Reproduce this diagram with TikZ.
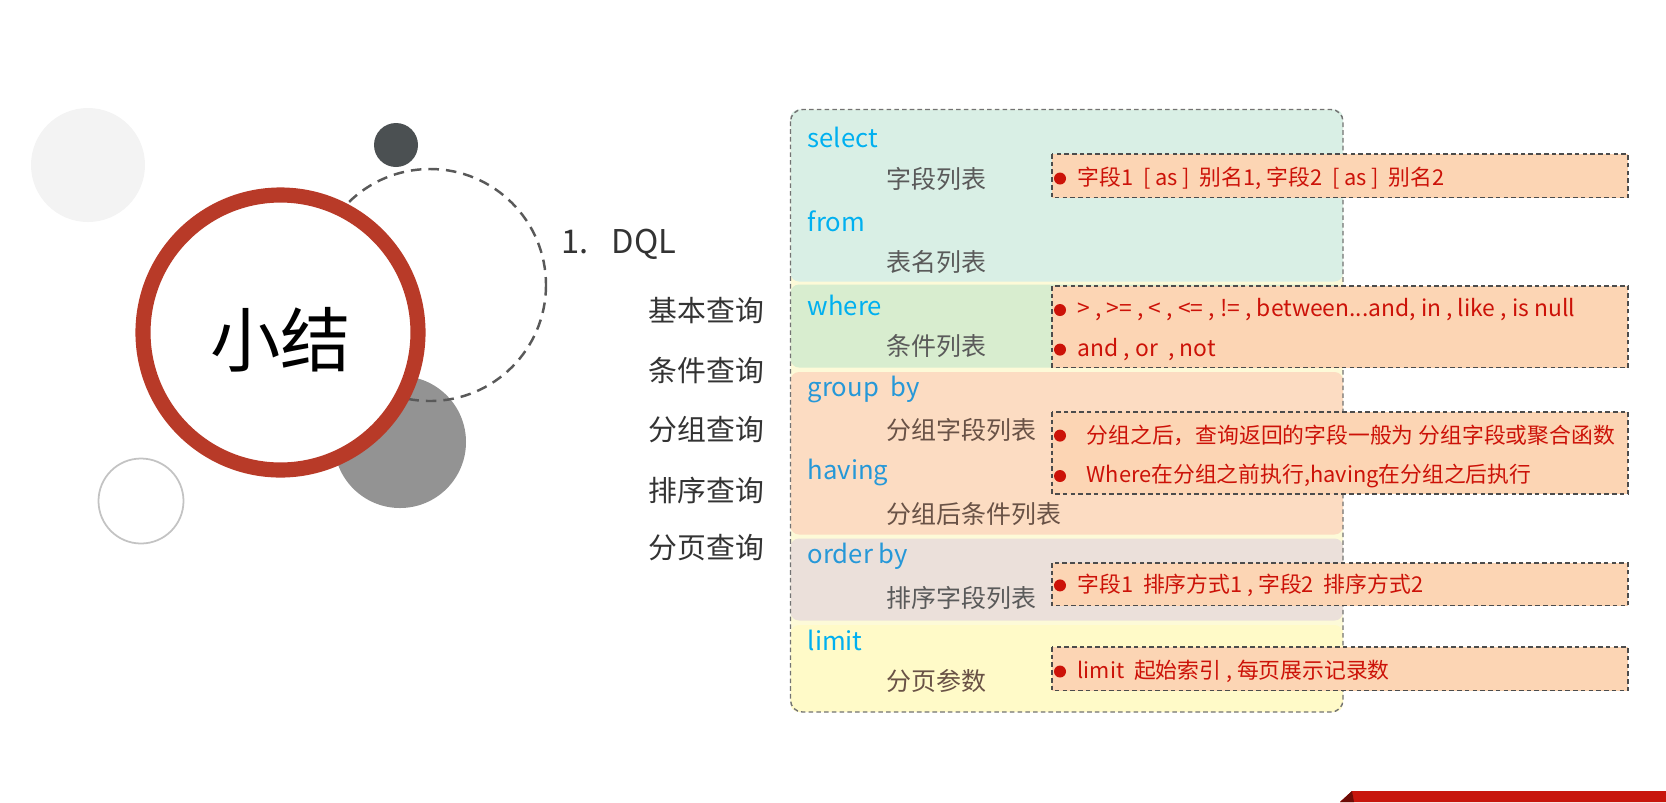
\documentclass[tikz,border=0pt]{standalone}
\usepackage{fontspec}
\setmainfont{Noto Sans CJK SC}
\usepackage{xcolor}
\usepackage{tikz}
\definecolor{ringred}{RGB}{184,58,40}
\definecolor{darkdot}{RGB}{75,80,82}
\definecolor{midgray}{RGB}{147,147,147}
\definecolor{palegray}{RGB}{243,243,243}
\definecolor{ringgray}{RGB}{195,195,195}
\definecolor{kwcyan}{RGB}{0,176,240}
\definecolor{kwblue}{RGB}{38,152,216}
\definecolor{subgray}{RGB}{90,90,90}
\definecolor{subbrown}{RGB}{105,82,70}
\definecolor{notered}{RGB}{204,18,8}
\definecolor{notefill}{RGB}{252,213,180}
\definecolor{boxfill}{RGB}{253,250,216}
\definecolor{selfill}{RGB}{217,239,229}
\definecolor{wherefill}{RGB}{216,237,207}
\definecolor{groupfill}{RGB}{252,220,194}
\definecolor{orderfill}{RGB}{235,224,218}
\definecolor{limitfill}{RGB}{255,250,200}
\definecolor{barred}{RGB}{200,22,13}

\begin{document}
\begin{tikzpicture}[
			x = 0.01cm, y = -0.01cm,
			every node/.style = {inner sep = 0pt, anchor = west},
			kw/.style = {text = kwcyan, font = \fontsize{7.3}{8}\selectfont},
			kwb/.style = {text = kwblue, font = \fontsize{7.3}{8}\selectfont},
			sub/.style = {text = subgray, font = \fontsize{7.1}{8}\selectfont},
			subb/.style = {text = subbrown, font = \fontsize{7.1}{8}\selectfont},
			topic/.style = {text = black!80, font = \fontsize{8.2}{9}\selectfont},
			note/.style = {text = notered, font = \fontsize{6.2}{7}\selectfont},
			notelat/.style = {text = notered, font = \fontsize{6.5}{7}\selectfont},
			notebox/.style = {draw = black!70, fill = notefill, line width = 0.4pt, dash pattern = on 1.3pt off 0.9pt},
			part/.style = {rounded corners = 2.4pt},
			dot/.style = {fill = notered}
		]
			\def\kwx{807}
			\def\subx{886}
			\def\boxl{1052}
			\def\boxr{1628}
			\def\dotx{1060}
			\def\notex{1077}

			\useasboundingbox (0,0) rectangle (1666,802);

			\fill[palegray] (88,165) circle (57);
			\fill[darkdot] (396,145) circle (22);
			\draw[ringgray, line width = 0.5pt] (141,501) circle (42.5);
			\fill[midgray] (400,442) circle (66);
			\draw[black!65, line width = 0.7pt, dash pattern = on 3pt off 2pt] (430,285) circle (116);
			\draw[ringred, fill = white, line width = 4.3pt] (280.5,332.5) circle (137.5);
			\draw (280.5,340) node[anchor = center, font = \fontsize{20}{22}\selectfont] (title) {小结};

			\draw (561,244) node[topic, font = \fontsize{9.3}{10}\selectfont] (dql) {1.\hspace{0.7em}DQL};
			\draw (648,311) node[topic] (qbase) {基本查询};
			\draw (648,371) node[topic] (qcond) {条件查询};
			\draw (648,430) node[topic] (qgroup) {分组查询};
			\draw (648,490) node[topic] (qorder) {排序查询};
			\draw (648,548) node[topic] (qpage) {分页查询};

			\fill[boxfill, rounded corners = 3.4pt] (790.5,109.5) rectangle (1343,712);
			\fill[selfill, part] (790.5,109.5) rectangle (1343,281.5);
			\fill[wherefill, part] (790.5,284.5) rectangle (1343,367.5);
			\fill[groupfill, part] (790.5,372) rectangle (1343,534.5);
			\fill[orderfill, part] (790.5,538.5) rectangle (1343,620.5);
			\fill[limitfill, part] (790.5,625) rectangle (1343,712);
			\draw[black!55, line width = 0.4pt, dash pattern = on 1.3pt off 0.9pt, rounded corners = 3.4pt] (790.5,109.5) rectangle (1343,712);

			\draw (\kwx,137) node[kw] (kwsel) {select};
			\draw (\subx,178.5) node[sub] (subsel) {字段列表};
			\draw (\kwx,221) node[kw] (kwfrom) {from};
			\draw (\subx,262.5) node[sub] (subfrom) {表名列表};
			\draw (\kwx,305) node[kw] (kwwhere) {where};
			\draw (\subx,346) node[sub] (subwhere) {条件列表};
			\draw (\kwx,389) node[kwb] (kwgroup) {group\ \ by};
			\draw (\subx,430) node[subb] (subgroup) {分组字段列表};
			\draw (\kwx,472) node[kwb] (kwhaving) {having};
			\draw (\subx,514) node[subb] (subhaving) {分组后条件列表};
			\draw (\kwx,556) node[kwb] (kworder) {order by};
			\draw (\subx,598) node[sub] (suborder) {排序字段列表};
			\draw (\kwx,640) node[kw] (kwlimit) {limit};
			\draw (\subx,681) node[subb] (sublimit) {分页参数};

			\draw[notebox] (\boxl,154) rectangle (\boxr,197.6);
			\fill[dot] (\dotx,178.5) circle (6);
			\draw (\notex,178.5) node[note] (nsel) {字段1\ \ [ as ]\ \ 别名1, 字段2\ \ [ as ]\ \ 别名2};

			\draw[notebox] (\boxl,286) rectangle (\boxr,367.6);
			\fill[dot] (\dotx,310) circle (6);
			\fill[dot] (\dotx,349.6) circle (6);
			\draw (\notex,310) node[notelat] (nwhere) {> , >= , < , <= , != , between...and, in , like , is null};
			\draw (\notex,349.6) node[notelat] (nlogic) {and , or\ \ , not};

			\draw[notebox] (\boxl,412) rectangle (\boxr,494);
			\fill[dot] (\dotx,435.6) circle (6);
			\fill[dot] (\dotx,476) circle (6);
			\draw (1086,435.6) node[note] (ngroup) {分组之后，查询返回的字段一般为 分组字段或聚合函数};
			\draw (1086,476) node[note] (nhaving) {Where在分组之前执行,having在分组之后执行};

			\draw[notebox] (\boxl,563) rectangle (\boxr,605.6);
			\fill[dot] (\dotx,585.4) circle (6);
			\draw (\notex,585.4) node[note] (norder) {字段1\ \ 排序方式1 , 字段2\ \ 排序方式2};

			\draw[notebox] (\boxl,647) rectangle (\boxr,690.6);
			\fill[dot] (\dotx,671.5) circle (6);
			\draw (\notex,671.5) node[note] (nlimit) {limit\ \ 起始索引 , 每页展示记录数};

			\fill[barred] (1340,802) -- (1352,791) -- (1666,791) -- (1666,802) -- cycle;
			\fill[barred!55!black] (1340,802) -- (1352,791) -- (1354,802) -- cycle;

		\end{tikzpicture}
\end{document}
